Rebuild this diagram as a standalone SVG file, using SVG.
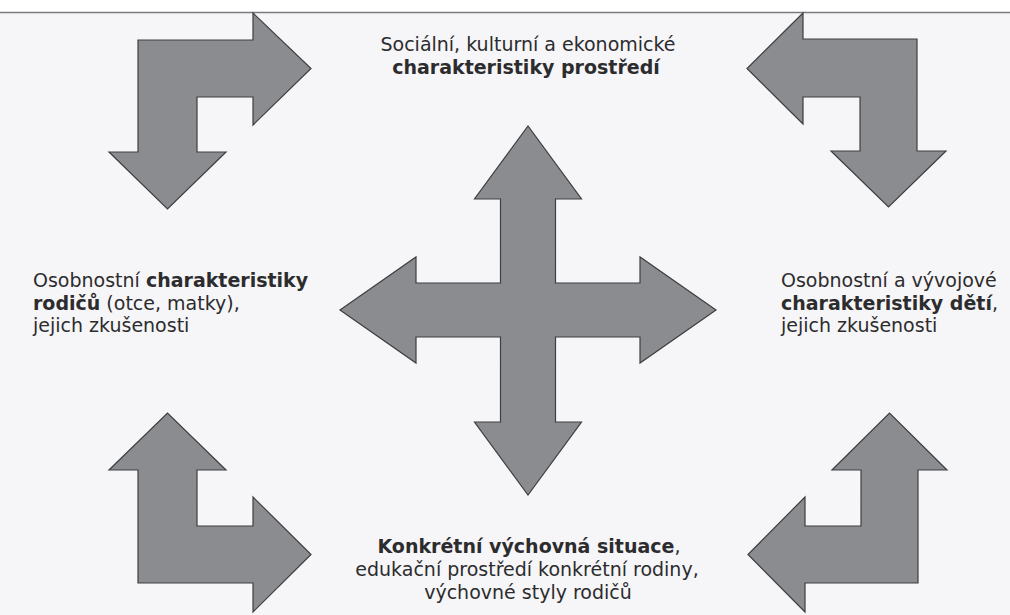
<svg xmlns="http://www.w3.org/2000/svg" width="1010" height="615" viewBox="0 0 1010 615">
  <style>
    .arrow { fill: #8a8c90; stroke: #3e3e40; stroke-width: 1.2; stroke-linejoin: miter; }
    .t { font-family: "DejaVu Sans", "Open Sans", sans-serif; font-size: 19px; fill: #2c2c2e; }
    .b { font-weight: 700; }
    .c { text-anchor: middle; }
  </style>
  <rect x="0" y="0" width="1010" height="615" fill="#f6f5f7"/>
  <rect x="0" y="0" width="1010" height="12.5" fill="#ffffff"/>
  <line x1="0" y1="12.5" x2="1010" y2="12.5" stroke="#7c7c7e" stroke-width="1.5"/>

  <g id="connectors">
    <polygon id="arrow-top-left" class="arrow" points="138,40 253,40 253,13 311,68.5 253,125 253,97 197,97 197,152 226,152 167.5,209 109,152 138,152"/>
    <polygon id="arrow-top-right" class="arrow" points="917,39 803,39 803,13 747,68.5 803,124 803,97 860,97 860,151 831,151 888.5,207 946,151 917,151"/>
    <polygon id="arrow-bottom-left" class="arrow" points="138,583 138,470 109,470 167.5,413 226,470 197,470 197,526 253,526 253,497 311,554.5 253,612 253,583"/>
    <polygon id="arrow-bottom-right" class="arrow" points="918,583 918,470 947,470 889.5,413 832,470 861,470 861,526 805,526 805,497 748,554.5 805,612 805,583"/>
    <polygon id="arrow-center-cross" class="arrow" points="500.5,199 474.5,199 528,126 581.5,199 555.5,199 555.5,283 640,283 640,257 716,310 640,363 640,337 555.5,337 555.5,422 581.5,422 528,495 474.5,422 500.5,422 500.5,337 416,337 416,363 340,310 416,257 416,283 500.5,283"/>
  </g>

  <g id="node-top">
    <text class="t c" x="528" y="51">Sociální, kulturní a ekonomické</text>
    <text class="t c b" x="526" y="73.5">charakteristiky prostředí</text>
  </g>

  <g id="node-left">
    <text class="t" x="33" y="287">Osobnostní <tspan class="b">charakteristiky</tspan></text>
    <text class="t" x="33" y="309.5"><tspan class="b">rodičů</tspan> (otce, matky),</text>
    <text class="t" x="33" y="332">jejich zkušenosti</text>
  </g>

  <g id="node-right">
    <text class="t" x="781" y="287">Osobnostní a vývojové</text>
    <text class="t" x="781" y="309.5"><tspan class="b">charakteristiky dětí</tspan>,</text>
    <text class="t" x="781" y="332">jejich zkušenosti</text>
  </g>

  <g id="node-bottom">
    <text class="t c" x="529" y="553"><tspan class="b">Konkrétní výchovná situace</tspan>,</text>
    <text class="t c" x="527" y="576">edukační prostředí konkrétní rodiny,</text>
    <text class="t c" x="528" y="599">výchovné styly rodičů</text>
  </g>
</svg>
